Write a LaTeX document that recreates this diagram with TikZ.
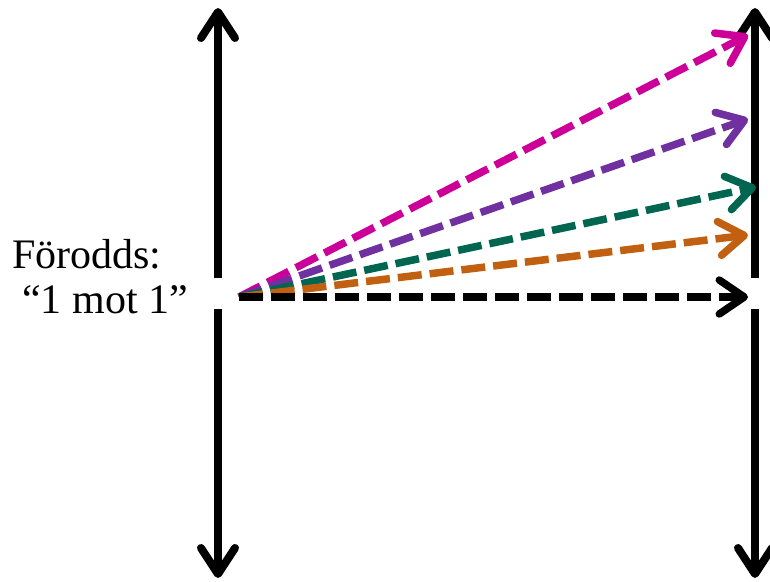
\documentclass[tikz,border=0pt]{standalone}
\usepackage{fontspec}
\setmainfont{Liberation Serif}
\usetikzlibrary{arrows.meta}
\definecolor{oddsmagenta}{HTML}{CC0099}
\definecolor{oddspurple}{HTML}{7030A0}
\definecolor{oddsgreen}{HTML}{00664F}
\definecolor{oddsorange}{HTML}{C06010}
\begin{document}
\begin{tikzpicture}[x=1pt,y=-1pt,
  axis/.style={line width=8pt,-{Straight Barb[length=26pt,width=34pt,round]}},
  bet/.style={line width=7.5pt,dash pattern=on 24pt off 8pt,
    -{Straight Barb[length=25pt,width=34pt,round]}}]
\useasboundingbox (0,0) rectangle (770,581);
% the two axes, broken at the line of the start odds
\coordinate (la) at (218,278); \coordinate (lat) at (218,8);
\coordinate (lb) at (218,309); \coordinate (lbt) at (218,578);
\coordinate (ra) at (755,278); \coordinate (rat) at (755,8);
\coordinate (rb) at (755,309); \coordinate (rbt) at (755,578);
\draw[axis] (la) -- (lat);
\draw[axis] (lb) -- (lbt);
\draw[axis] (ra) -- (rat);
\draw[axis] (rb) -- (rbt);
% start odds and the bets going out from it
\coordinate (start) at (239,297);
\coordinate (tipm) at (748,35);
\coordinate (tipp) at (748,119);
\coordinate (tipg) at (756,187);
\coordinate (tipo) at (748,235);
\coordinate (tipk) at (748,297);
\draw[bet,oddsmagenta] (start) -- (tipm);
\draw[bet,oddspurple] (start) -- (tipp);
\draw[bet,oddsgreen] (start) -- (tipg);
\draw[bet,oddsorange] (start) -- (tipo);
\draw[bet,black] (start) -- (tipk);
\node[anchor=base west,inner sep=0pt,font=\fontsize{42}{48}\selectfont] (odds) at (12,268) {Förodds:};
\node[anchor=base west,inner sep=0pt,font=\fontsize{42}{48}\selectfont] (even) at (22,313) {“1 mot 1”};
\end{tikzpicture}
\end{document}
